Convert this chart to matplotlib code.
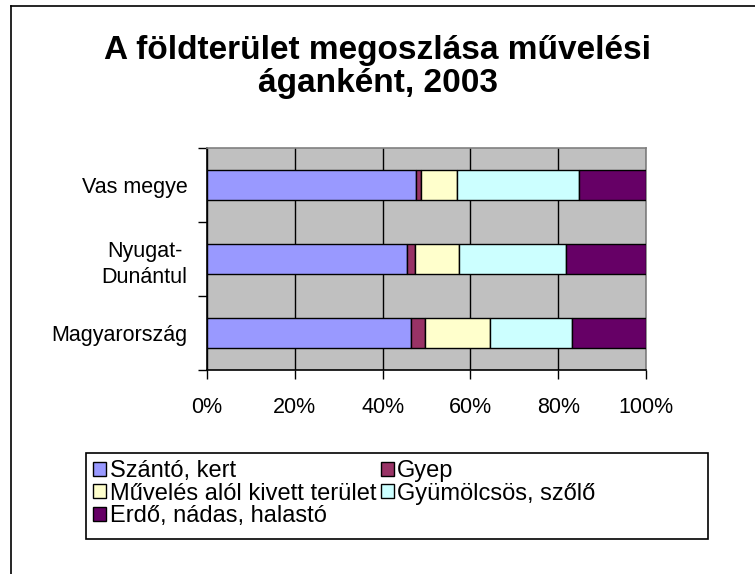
import matplotlib
matplotlib.use('agg')
import matplotlib.pyplot as plt
from matplotlib.lines import Line2D
from matplotlib.patches import Rectangle

plt.rcParams['font.family'] = ['Liberation Sans', 'DejaVu Sans']

# adatok (százalék), alulról felfelé
regiok = ['Magyarország', 'Nyugat-\nDunántul', 'Vas megye']
kategoriak = ['Szántó, kert', 'Gyep', 'Művelés alól kivett terület',
              'Gyümölcsös, szőlő', 'Erdő, nádas, halastó']
szanto = [46.5, 45.5, 47.6]
gyep = [3.1, 1.9, 1.2]
muveles = [14.8, 9.9, 8.1]
gyumolcs = [18.8, 24.5, 27.8]
erdo = [16.8, 18.2, 15.3]
szinek = ['#9999FF', '#993366', '#FFFFCC', '#CCFFFF', '#660066']
x_tickek = [0, 20, 40, 60, 80, 100]

W, H = 755, 574
fig = plt.figure(figsize=(W / 100, H / 100), dpi=100)

# külső keret
fig.add_artist(Line2D([11 / W, 1], [1 - 6 / H, 1 - 6 / H], color='black', lw=1.2))
fig.add_artist(Line2D([11 / W, 11 / W], [0, 1 - 6 / H], color='black', lw=1.2))

fig.text(0.5, 1 - 67 / H, 'A földterület megoszlása művelési\náganként, 2003',
         ha='center', va='center', fontsize=24, fontweight='bold', linespacing=1.1)

ax = fig.add_axes([207 / W, 1 - 370 / H, (646 - 207) / W, (370 - 148) / H])
ax.set_facecolor('#C0C0C0')

y = range(len(regiok))
bal = [0, 0, 0]
sorok = [szanto, gyep, muveles, gyumolcs, erdo]
for i, ertekek in enumerate(sorok):
    ax.barh(y, ertekek, left=bal, height=0.4, color=szinek[i],
            edgecolor='black', linewidth=1, label=kategoriak[i], zorder=3)
    bal = [b + e for b, e in zip(bal, ertekek)]

ax.set_xlim(0, 100)
ax.set_ylim(-0.5, 2.5)
ax.set_xticks(x_tickek)
ax.set_xticklabels([str(t) + '%' for t in x_tickek], fontsize=15.5)
ax.tick_params(axis='x', length=6.5, width=1, pad=13)
ax.set_yticks(list(y))
ax.set_yticklabels(regiok, fontsize=15.5, linespacing=1.35, multialignment='center')
ax.tick_params(axis='y', which='major', length=0, pad=14)
ax.set_yticks([-0.5, 0.5, 1.5, 2.5], minor=True)
ax.tick_params(axis='y', which='minor', length=6.5, width=1)
ax.grid(axis='x', color='black', lw=1, zorder=1)

ax.spines['left'].set_color('black')
ax.spines['bottom'].set_color('black')
ax.spines['top'].set_color('#808080')
ax.spines['right'].set_color('#808080')
for s in ax.spines.values():
    s.set_linewidth(1.2)

# jelmagyarázat: sorfolytonos sorrend két oszlopban
h, l = ax.get_legend_handles_labels()
rend = [0, 2, 4, 1, 3]
fig.add_artist(Rectangle((86 / W, 1 - 539 / H), (708 - 86) / W, (539 - 453) / H,
                         transform=fig.transFigure, facecolor='white',
                         edgecolor='black', lw=1.2))
fig.legend([h[i] for i in rend], [l[i] for i in rend], ncol=2,
           loc='upper left', bbox_to_anchor=(93 / W, 1 - 460 / H),
           frameon=False, fontsize=17, handlelength=0.55, handleheight=0.55,
           handletextpad=0.15, columnspacing=0.2, labelspacing=0.03,
           borderpad=0, borderaxespad=0)

fig.savefig('out.png', dpi=100)
